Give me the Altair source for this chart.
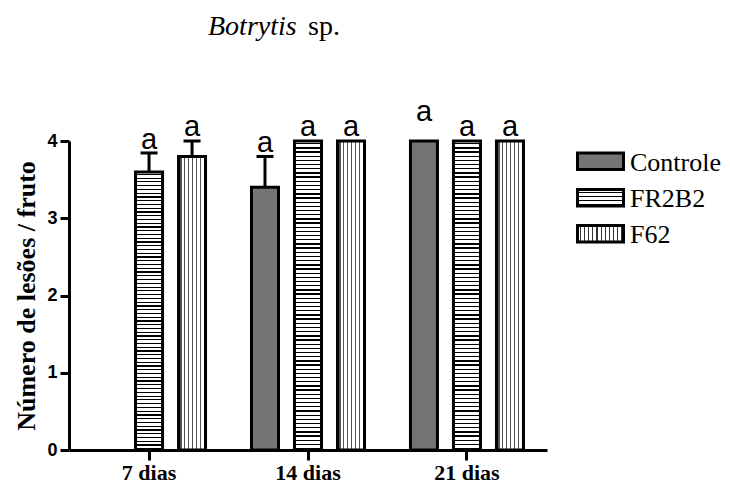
import altair as alt
import pandas as pd

# ---- data ----
days = ["7 dias", "14 dias", "21 dias"]
series = ["Controle", "FR2B2", "F62"]

controle_mean = [0.0, 3.4, 4.0]
fr2b2_mean = [3.6, 4.0, 4.0]
f62_mean = [3.8, 4.0, 4.0]

controle_sem = [0.0, 0.4, 0.0]
fr2b2_sem = [0.245, 0.0, 0.0]
f62_sem = [0.2, 0.0, 0.0]

controle_letters = ["", "a", "a"]
fr2b2_letters = ["a", "a", "a"]
f62_letters = ["a", "a", "a"]

# letter anchor heights (data units) as they appear in the figure
controle_letter_y = [0.0, 3.864, 4.259]
fr2b2_letter_y = [3.896, 4.065, 4.065]
f62_letter_y = [4.065, 4.065, 4.065]

y_ticks = [0, 1, 2, 3, 4]

means = {"Controle": controle_mean, "FR2B2": fr2b2_mean, "F62": f62_mean}
sems = {"Controle": controle_sem, "FR2B2": fr2b2_sem, "F62": f62_sem}
letters = {"Controle": controle_letters, "FR2B2": fr2b2_letters, "F62": f62_letters}
letter_y = {"Controle": controle_letter_y, "FR2B2": fr2b2_letter_y, "F62": f62_letter_y}

rows = []
for s in series:
    for i, d in enumerate(days):
        rows.append({"day": d, "series": s, "val": means[s][i], "sem": sems[s][i],
                     "letter": letters[s][i], "ly": letter_y[s][i]})
df = pd.DataFrame(rows)

SERIF = "'Liberation Serif', 'Times New Roman', Times, serif"
SANS = "'Liberation Sans', Arial, Helvetica, sans-serif"


# ---- pattern fills (styles) ----
def stripes(n, frac, color, vertical, phase=0.0):
    stops = [{"offset": 0, "color": "white"}]
    for k in range(n):
        a = round((k + phase) / n, 5)
        b = round((k + phase + frac) / n, 5)
        if b > 1:
            break
        stops += [{"offset": a, "color": "white"}, {"offset": a, "color": color},
                  {"offset": b, "color": color}, {"offset": b, "color": "white"}]
    stops.append({"offset": 1, "color": "white"})
    return {"gradient": "linear", "x1": 0, "y1": 0,
            "x2": 1 if vertical else 0, "y2": 0 if vertical else 1, "stops": stops}


fills = {
    "Controle": "#747474",
    "FR2B2": stripes(74, 0.32, "black", False, 0.5),
    "F62": stripes(7, 0.3, "#555555", True, 0.5),
}
legend_fills = {
    "Controle": "#747474",
    "FR2B2": stripes(4, 0.3, "black", False, 0.5),
    "F62": stripes(11, 0.3, "#333333", True, 0.5),
}

xscale = alt.Scale(domain=days, paddingInner=0.289, paddingOuter=0.148)
oscale = alt.Scale(domain=series, paddingInner=0.372, paddingOuter=0)
yscale = alt.Scale(domain=[0, 4], nice=False)
yaxis = alt.Axis(values=y_ticks, format="d", title="Número de lesões / fruto")

base = alt.Chart(df).encode(
    x=alt.X("day:N", scale=xscale, title=None),
    xOffset=alt.XOffset("series:N", scale=oscale),
)

layers = []
for s in series:
    layers.append(
        base.transform_filter((alt.datum.series == s) & (alt.datum.val > 0))
        .mark_bar(fill=fills[s], stroke="black", strokeWidth=3)
        .encode(y=alt.Y("val:Q", scale=yscale, axis=yaxis))
    )

err = base.transform_filter(alt.datum.sem > 0).transform_calculate(top="datum.val + datum.sem")
layers.append(err.mark_rule(color="black", strokeWidth=3).encode(y=alt.Y("val:Q", axis=yaxis), y2="top:Q"))
layers.append(err.mark_tick(color="black", thickness=3, size=17, opacity=1)
              .encode(y=alt.Y("top:Q", axis=yaxis)))

layers.append(
    base.transform_filter(alt.datum.letter != "")
    .mark_text(font=SANS, fontSize=29, baseline="alphabetic", color="black")
    .encode(y=alt.Y("ly:Q", axis=yaxis), text="letter:N")
)

# ---- manual legend ----
one = pd.DataFrame({"k": [0]})
leg_top = [12, 48.5, 84.5]
for i, s in enumerate(series):
    layers.append(
        alt.Chart(one).mark_rect(fill=legend_fills[s], stroke="black", strokeWidth=3)
        .encode(x=alt.value(508.5), x2=alt.value(554.5),
                y=alt.value(leg_top[i]), y2=alt.value(leg_top[i] + 16.5))
    )
    layers.append(
        alt.Chart(one).mark_text(text=s, font=SERIF, fontSize=26,
                                 align="left", baseline="alphabetic", color="black")
        .encode(x=alt.value(561), y=alt.value(leg_top[i] + 17.5))
    )

# ---- title (italic genus + roman "sp.") ----
layers.append(
    alt.Chart(one).mark_text(text="Botrytis", font=SERIF, fontStyle="italic",
                             fontSize=28, align="left", baseline="alphabetic", color="black")
    .encode(x=alt.value(139), y=alt.value(-106))
)
layers.append(
    alt.Chart(one).mark_text(text="sp.", font=SERIF, fontSize=28,
                             align="left", baseline="alphabetic", color="black")
    .encode(x=alt.value(239), y=alt.value(-106))
)

chart = (
    alt.layer(*layers)
    .properties(width=478, height=309,
                padding={"left": 61, "top": 133, "right": 175, "bottom": 34},
                autosize=alt.AutoSizeParams(type="none"))
    .configure_view(strokeWidth=0)
    .configure_axisY(grid=False,
                     domainColor="black", domainWidth=3, tickColor="black", tickWidth=3,
                     tickSize=9, labelFont=SANS, labelFontWeight="bold",
                     labelFontSize=18, labelColor="black", labelPadding=3,
                     titleFont=SERIF, titleFontWeight="bold", titleFontSize=26,
                     titleColor="black", titlePadding=7)
    .configure_axisX(grid=False, labelAngle=0, domainColor="black", domainWidth=3,
                     tickColor="black", tickWidth=3, tickSize=10,
                     labelFont=SERIF, labelFontWeight="bold", labelFontSize=22,
                     labelColor="black", labelPadding=2)
)

chart.save("out.html", embed_options={"renderer": "svg", "actions": False})
